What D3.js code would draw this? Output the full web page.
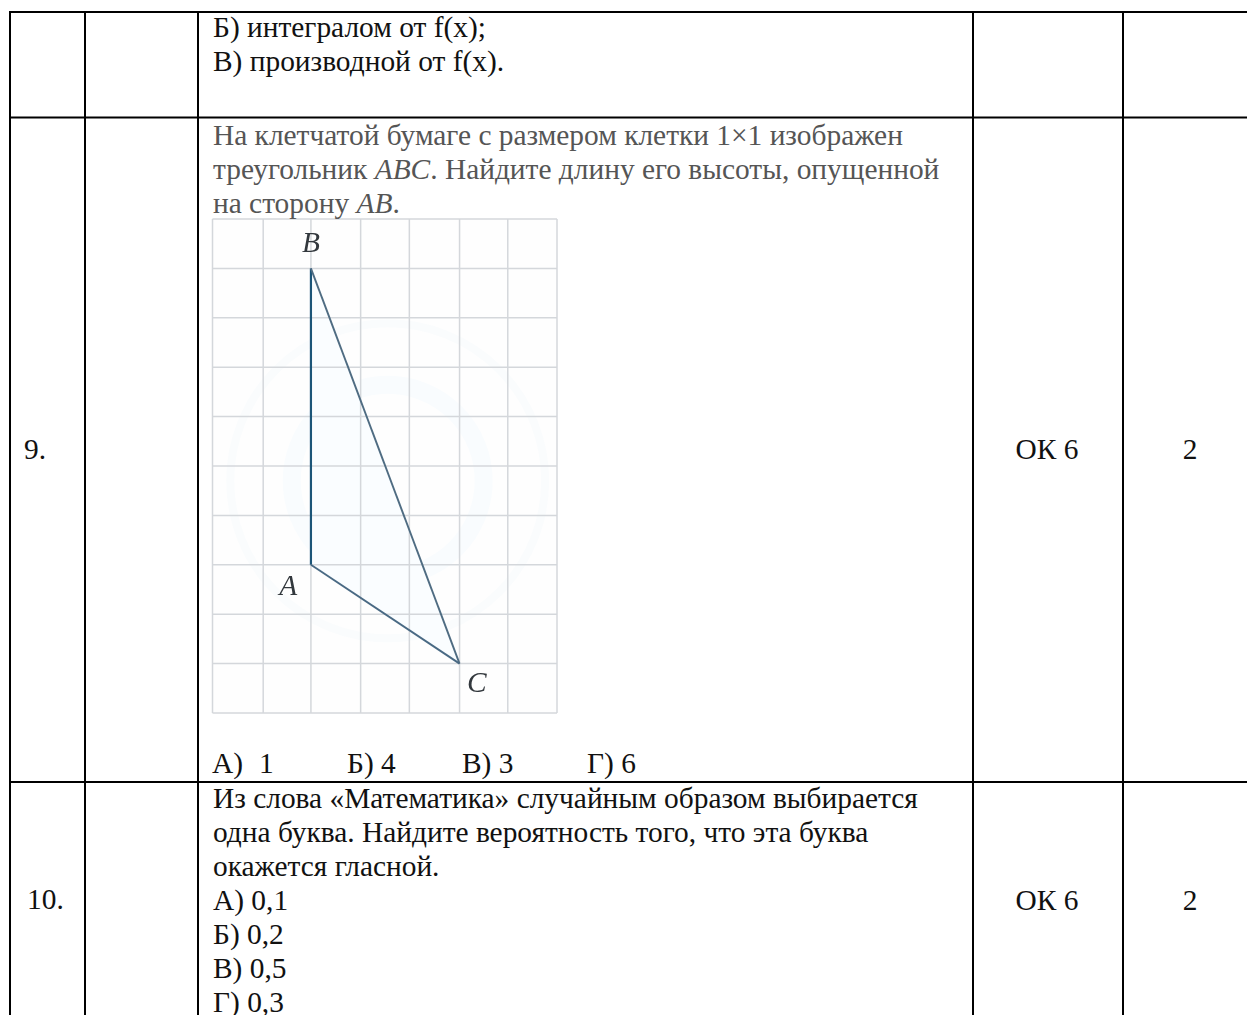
<!DOCTYPE html>
<html><head><meta charset="utf-8">
<script src="https://cdn.jsdelivr.net/npm/d3@7"></script>
<style>html,body{margin:0;padding:0;background:#fff}svg{display:block}text{font-family:"Liberation Serif",serif;font-size:29.4px}</style>
</head><body><svg id="c" width="1247" height="1015"></svg>
<script>
const colLines=[10,85,198,973,1123];
const rowLines=[12,117.5,782];
const gridCols=[0,1.03,2,3.01,4,5.02,6,7];
const gridRows=[0,1,2,3,4,5,6,7,8,9,10];
const triangle=[[2,9],[2,3],[5.02,1]];
const vertexLabels=[{t:"B",x:2.0,y:9.33},{t:"A",x:1.54,y:2.39},{t:"C",x:5.37,y:0.43}];
const watermarkRings=[[3.56,4.7,3.2,8,"#fafcfd"],[3.56,4.7,1.95,18,"#f9fcfe"]];
const top1=[["Б) интегралом от f(x);",37],["В) производной от f(x).",71]];
const q9=[["На клетчатой бумаге с размером клетки 1×1 изображен",144.5],["треугольник <i>ABC</i>. Найдите длину его высоты, опущенной",178.5],["на сторону <i>AB</i>.",212.5]];
const answers9=[["А)",212],["1",259],["Б) 4",347],["В) 3",462],["Г) 6",587]];
const q10=["Из слова «Математика» случайным образом выбирается","одна буква. Найдите вероятность того, что эта буква","окажется гласной.","А) 0,1","Б) 0,2","В) 0,5","Г) 0,3"];
const rowLabels=[["9.",24,459],["10.",27,909]];
const codes=[["ОК 6",459],["ОК 6",910]];
const points=[["2",459],["2",910]];

const svg=d3.select("#c");
const x=d3.scaleLinear().domain([0,7]).range([212.5,557]);
const y=d3.scaleLinear().domain([0,10]).range([713,219]);
const defs=svg.append("defs");
defs.append("filter").attr("id","soft").append("feGaussianBlur").attr("stdDeviation",0.45);
defs.append("clipPath").attr("id","fig").append("rect").attr("x",x(0)).attr("y",y(10)).attr("width",x(7)-x(0)).attr("height",y(0)-y(10));
const g=svg.append("g").attr("filter","url(#soft)");
g.append("rect").attr("x",x(0)).attr("y",y(10)).attr("width",x(7)-x(0)).attr("height",y(0)-y(10)).attr("fill","#fefefe");
g.append("g").attr("clip-path","url(#fig)").selectAll("circle").data(watermarkRings).join("circle")
 .attr("cx",d=>x(d[0])).attr("cy",d=>y(d[1])).attr("r",d=>x(d[2])-x(0)).attr("fill","none").attr("stroke-width",d=>d[3]).attr("stroke",d=>d[4]);
g.append("path").attr("d",d3.line().x(d=>x(d[0])).y(d=>y(d[1])).curve(d3.curveLinearClosed)(triangle)).attr("fill","#fafdff");
g.selectAll(".v").data(gridCols).join("line").attr("x1",x).attr("x2",x).attr("y1",y(10)).attr("y2",y(0)).attr("stroke","#d4d7db").attr("stroke-width",1.5);
g.selectAll(".h").data(gridRows).join("line").attr("y1",y).attr("y2",y).attr("x1",x(0)).attr("x2",x(7)).attr("stroke","#d4d7db").attr("stroke-width",1.5);
const seg=[[0,1,"#1f5578",2.2],[1,2,"#4a6a84",1.9],[2,0,"#4f6c82",1.9]];
g.selectAll(".t").data(seg).join("line")
 .attr("x1",d=>x(triangle[d[0]][0])).attr("y1",d=>y(triangle[d[0]][1]))
 .attr("x2",d=>x(triangle[d[1]][0])).attr("y2",d=>y(triangle[d[1]][1]))
 .attr("stroke",d=>d[2]).attr("stroke-width",d=>d[3]);
g.selectAll(".l").data(vertexLabels).join("text").text(d=>d.t).attr("x",d=>x(d.x)).attr("y",d=>y(d.y)).attr("text-anchor","middle").attr("font-style","italic").attr("fill","#33383d");

const line=svg.append("g");
line.selectAll(".c").data(colLines).join("line").attr("x1",d=>d).attr("x2",d=>d).attr("y1",rowLines[0]-1).attr("y2",1015).attr("stroke","#000").attr("stroke-width",2);
line.selectAll(".r").data(rowLines).join("line").attr("y1",d=>d).attr("y2",d=>d).attr("x1",colLines[0]-1).attr("x2",1247).attr("stroke","#000").attr("stroke-width",2);

const put=(s,xx,yy,fill,anchor)=>svg.append("text").attr("x",xx).attr("y",yy).attr("fill",fill||"#000").attr("text-anchor",anchor||"start").html(s.replace(/<i>(.*?)<\/i>/g,'<tspan font-style="italic">$1</tspan>'));
top1.forEach(d=>put(d[0],213,d[1],"#111"));
q9.forEach(d=>put(d[0],213,d[1],"#555"));
answers9.forEach(d=>put(d[0],d[1],773,"#111"));
q10.forEach((s,i)=>put(s,213,808+i*34,"#111"));
rowLabels.forEach(d=>put(d[0],d[1],d[2],"#111"));
codes.forEach(d=>put(d[0],1047,d[1],"#111","middle"));
points.forEach(d=>put(d[0],1190,d[1],"#111","middle"));
</script></body></html>
